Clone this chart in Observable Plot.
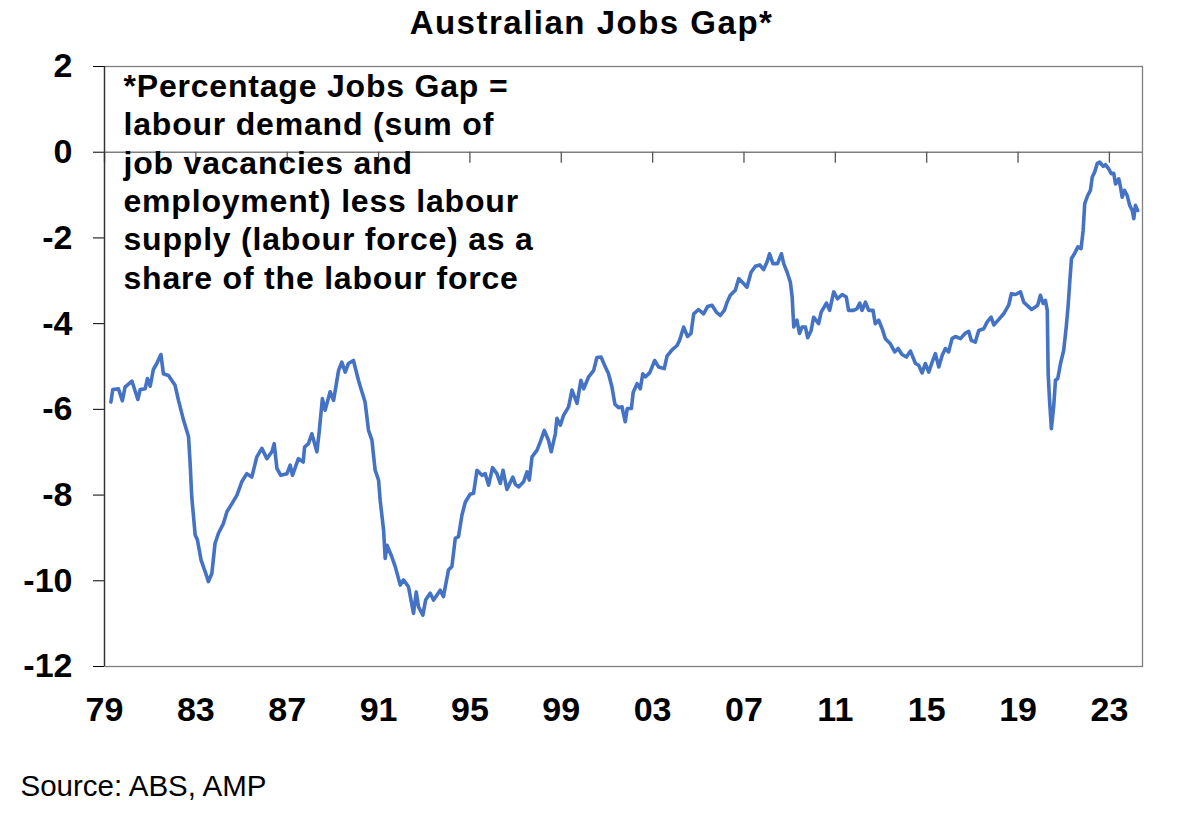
<!DOCTYPE html>
<html>
<head>
<meta charset="utf-8">
<script src="https://cdn.jsdelivr.net/npm/d3@7"></script>
<script src="https://cdn.jsdelivr.net/npm/@observablehq/plot@0.6"></script>
<style>
  body { margin: 0; background: #fff; }
  #chart svg g[font-size="33"] { letter-spacing: 1.5px; }
  #chart svg g[font-size="32"] { letter-spacing: 0.8px; }
</style>
</head>
<body>
<div id="chart"></div>
<script>
// monthly-ish readings of the jobs gap, decimal years
const years = [
  1979.28, 1979.36, 1979.61, 1979.78, 1979.90, 1980.20, 1980.46, 1980.56, 1980.78, 1980.88,
  1981.00, 1981.14, 1981.29, 1981.47, 1981.58, 1981.80, 1982.09, 1982.24, 1982.46, 1982.68,
  1982.75, 1982.82, 1982.97, 1983.07, 1983.23, 1983.41, 1983.55, 1983.70, 1983.84, 1983.99,
  1984.21, 1984.36, 1984.58, 1984.80, 1985.01, 1985.23, 1985.45, 1985.67, 1985.89, 1986.11,
  1986.33, 1986.43, 1986.55, 1986.72, 1986.99, 1987.13, 1987.23, 1987.49, 1987.70, 1987.76,
  1987.93, 1988.08, 1988.30, 1988.40, 1988.54, 1988.66, 1988.88, 1989.03, 1989.25, 1989.39,
  1989.54, 1989.68, 1989.90, 1990.12, 1990.23, 1990.41, 1990.56, 1990.71, 1990.85, 1991.00,
  1991.07, 1991.22, 1991.29, 1991.37, 1991.58, 1991.73, 1991.95, 1992.09, 1992.31, 1992.53,
  1992.65, 1992.75, 1992.94, 1993.06, 1993.26, 1993.41, 1993.70, 1993.84, 1994.06, 1994.21,
  1994.36, 1994.50, 1994.65, 1994.80, 1995.01, 1995.16, 1995.31, 1995.53, 1995.67, 1995.82,
  1995.99, 1996.18, 1996.33, 1996.45, 1996.62, 1996.88, 1996.99, 1997.13, 1997.35, 1997.50,
  1997.60, 1997.72, 1997.94, 1998.11, 1998.26, 1998.44, 1998.56, 1998.74, 1998.81, 1998.96,
  1999.10, 1999.32, 1999.47, 1999.69, 1999.86, 1999.98, 2000.20, 2000.42, 2000.56, 2000.74,
  2000.93, 2001.07, 2001.22, 2001.35, 2001.51, 2001.66, 2001.80, 2001.89, 2002.07, 2002.15,
  2002.32, 2002.46, 2002.57, 2002.68, 2002.87, 2003.09, 2003.26, 2003.51, 2003.63, 2003.85,
  2004.07, 2004.18, 2004.36, 2004.53, 2004.68, 2004.80, 2005.01, 2005.23, 2005.41, 2005.60,
  2005.79, 2005.96, 2006.14, 2006.26, 2006.40, 2006.62, 2006.77, 2006.96, 2007.13, 2007.31,
  2007.50, 2007.69, 2007.86, 2008.01, 2008.12, 2008.27, 2008.47, 2008.64, 2008.74, 2008.89,
  2009.03, 2009.11, 2009.18, 2009.32, 2009.43, 2009.54, 2009.69, 2009.79, 2009.94, 2010.05,
  2010.27, 2010.38, 2010.61, 2010.75, 2010.93, 2011.10, 2011.30, 2011.48, 2011.58, 2011.80,
  2011.95, 2012.07, 2012.17, 2012.32, 2012.46, 2012.65, 2012.75, 2012.90, 2013.05, 2013.19,
  2013.41, 2013.60, 2013.75, 2013.92, 2014.11, 2014.29, 2014.51, 2014.65, 2014.80, 2014.94,
  2015.09, 2015.24, 2015.38, 2015.53, 2015.68, 2015.82, 2015.96, 2016.11, 2016.26, 2016.48,
  2016.70, 2016.84, 2016.95, 2017.13, 2017.28, 2017.50, 2017.65, 2017.82, 2017.94, 2018.16,
  2018.37, 2018.59, 2018.71, 2018.89, 2019.11, 2019.25, 2019.47, 2019.59, 2019.76, 2019.86,
  2019.98, 2020.10, 2020.20, 2020.28, 2020.32, 2020.38, 2020.46, 2020.56, 2020.64, 2020.74,
  2020.86, 2021.00, 2021.11, 2021.19, 2021.27, 2021.34, 2021.47, 2021.62, 2021.76, 2021.85,
  2021.92, 2022.05, 2022.17, 2022.25, 2022.35, 2022.47, 2022.58, 2022.73, 2022.83, 2022.97,
  2023.08, 2023.19, 2023.27, 2023.41, 2023.49, 2023.56, 2023.66, 2023.78, 2023.89, 2024.00,
  2024.07, 2024.14, 2024.24
];
const gap = [
  -5.83, -5.54, -5.52, -5.80, -5.48, -5.34, -5.77, -5.54, -5.52, -5.28,
  -5.46, -5.07, -4.93, -4.72, -5.17, -5.21, -5.44, -5.79, -6.25, -6.64,
  -7.26, -8.04, -8.93, -9.05, -9.52, -9.79, -10.02, -9.83, -9.13, -8.89,
  -8.66, -8.39, -8.20, -8.00, -7.69, -7.50, -7.58, -7.11, -6.91, -7.15,
  -6.99, -6.80, -7.38, -7.54, -7.50, -7.30, -7.54, -7.15, -7.23, -6.88,
  -6.80, -6.57, -6.99, -6.53, -5.75, -6.02, -5.59, -5.79, -5.09, -4.90,
  -5.13, -4.93, -4.86, -5.32, -5.52, -5.83, -6.49, -6.72, -7.42, -7.65,
  -8.12, -8.82, -9.48, -9.17, -9.44, -9.67, -10.10, -9.98, -10.14, -10.76,
  -10.26, -10.61, -10.80, -10.45, -10.29, -10.45, -10.22, -10.37, -9.75, -9.67,
  -9.01, -8.97, -8.47, -8.16, -7.98, -7.96, -7.42, -7.54, -7.50, -7.77,
  -7.36, -7.50, -7.73, -7.42, -7.87, -7.58, -7.75, -7.81, -7.69, -7.46,
  -7.65, -7.11, -6.95, -6.72, -6.49, -6.72, -6.99, -6.57, -6.21, -6.37,
  -6.14, -5.94, -5.55, -5.86, -5.32, -5.52, -5.24, -5.09, -4.79, -4.78,
  -5.01, -5.17, -5.48, -5.88, -5.96, -5.94, -6.29, -5.98, -5.98, -5.60,
  -5.40, -5.52, -5.17, -5.24, -5.15, -4.86, -5.01, -5.05, -4.76, -4.61,
  -4.51, -4.39, -4.08, -4.30, -4.23, -3.77, -3.67, -3.77, -3.60, -3.57,
  -3.73, -3.81, -3.69, -3.50, -3.34, -3.22, -2.95, -3.05, -3.15, -2.80,
  -2.66, -2.63, -2.74, -2.56, -2.37, -2.60, -2.60, -2.37, -2.60, -2.80,
  -3.03, -3.38, -4.08, -3.92, -4.23, -4.08, -4.08, -4.33, -4.16, -3.85,
  -4.00, -3.73, -3.52, -3.69, -3.26, -3.42, -3.32, -3.38, -3.69, -3.69,
  -3.65, -3.52, -3.69, -3.50, -3.69, -3.69, -4.00, -3.92, -4.12, -4.35,
  -4.47, -4.66, -4.58, -4.72, -4.78, -4.64, -4.93, -4.97, -5.15, -4.93,
  -5.13, -4.90, -4.70, -5.01, -4.74, -4.58, -4.66, -4.35, -4.30, -4.35,
  -4.22, -4.18, -4.39, -4.43, -4.16, -4.12, -3.96, -3.85, -4.03, -3.90,
  -3.77, -3.57, -3.30, -3.32, -3.26, -3.50, -3.61, -3.67, -3.61, -3.57,
  -3.34, -3.53, -3.46, -3.69, -5.17, -5.79, -6.45, -5.94, -5.32, -5.28,
  -4.93, -4.62, -4.08, -3.61, -2.99, -2.48, -2.37, -2.21, -2.25, -1.83,
  -1.20, -1.01, -0.89, -0.58, -0.47, -0.26, -0.23, -0.33, -0.29, -0.39,
  -0.50, -0.49, -0.74, -0.62, -0.82, -1.05, -0.89, -1.01, -1.24, -1.36,
  -1.55, -1.24, -1.36
];

const xTicks = [1979, 1983, 1987, 1991, 1995, 1999, 2003, 2007, 2011, 2015, 2019, 2023];
const yTicks = [2, 0, -2, -4, -6, -8, -10, -12];
const title = "Australian Jobs Gap*";
const note = "*Percentage Jobs Gap =\nlabour demand (sum of\njob vacancies and\nemployment) less labour\nsupply (labour force) as a\nshare of the labour force";
const source = "Source: ABS, AMP";

const rows = years.map((t, i) => ({t, v: gap[i]}));

const chart = Plot.plot({
  width: 1182,
  height: 817,
  marginLeft: 104,
  marginRight: 40,
  marginTop: 66,
  marginBottom: 151,
  style: {
    fontFamily: "'Liberation Sans', Arial, sans-serif",
    fontSize: "34px",
    fontWeight: "bold",
    color: "#000",
    background: "#fff",
    overflow: "visible"
  },
  x: {
    domain: [1979, 2024.45],
    ticks: xTicks,
    tickFormat: d => String(d % 100).padStart(2, "0"),
    tickSize: 0,
    tickPadding: 30,
    label: null
  },
  y: {
    domain: [-12, 2],
    ticks: yTicks,
    tickFormat: d => String(d),
    tickSize: 11,
    tickPadding: 21,
    label: null
  },
  marks: [
    Plot.frame({stroke: "#7f7f7f", strokeWidth: 1.3}),
    Plot.ruleY([0], {stroke: "#7f7f7f", strokeWidth: 1.5}),
    Plot.ruleX(xTicks, {x: d => d, y1: 0, y2: 0, insetBottom: -11, stroke: "#555", strokeWidth: 1.3}),
    Plot.ruleX([1979], {stroke: "#333", strokeWidth: 1.3}),
    Plot.line(rows, {x: "t", y: "v", stroke: "#4472C4", strokeWidth: 3.6, strokeLinejoin: "round"}),
    Plot.text([note], {
      frameAnchor: "top-left", dx: 19, dy: 3.5,
      textAnchor: "start", lineAnchor: "top", lineHeight: 1.197,
      fontSize: 32, fontWeight: "bold", fill: "#000"
    }),
    Plot.text([title], {
      frameAnchor: "top", dx: -32, dy: -33, lineAnchor: "bottom",
      fontSize: 33, fontWeight: "bold", fill: "#000"
    }),
    Plot.text([source], {
      frameAnchor: "bottom-left", dx: -84, dy: 129, textAnchor: "start", lineAnchor: "bottom",
      fontSize: 29.5, fontWeight: "normal", fill: "#000"
    })
  ]
});

document.getElementById("chart").append(chart);
</script>
</body>
</html>
